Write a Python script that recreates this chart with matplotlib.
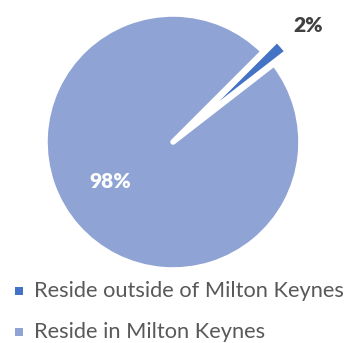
import matplotlib
matplotlib.use("Agg")
import matplotlib.pyplot as plt
from matplotlib.patches import Rectangle

categories = ["Reside outside of Milton Keynes", "Reside in Milton Keynes"]
values = [2, 98]
labels = ["2%", "98%"]
colors = ["#4472C4", "#8FA4D4"]

W, H = 347, 343
fig = plt.figure(figsize=(W / 100, H / 100), dpi=100)
ax = fig.add_axes([0, 0, 1, 1])
cx, cy, R = 173, H - 142, 128
# explode is in data units (pixels here)
wedges, _ = ax.pie(values, colors=colors, startangle=45, counterclock=False,
                   explode=[0.14 * R, 0], center=(cx, cy), radius=R,
                   wedgeprops=dict(edgecolor="white", linewidth=4,
                                   joinstyle="round"))
ax.set_xlim(0, W)
ax.set_ylim(0, H)
ax.set_aspect("equal")
ax.axis("off")

font = "Lato"
ax.text(308, H - 25, labels[0], ha="center", va="center", fontsize=15,
        fontweight="heavy", color="#404040", family=font)
ax.text(110, H - 182, labels[1], ha="center", va="center", fontsize=15,
        fontweight="heavy", color="white", family=font)

leg_y = [291, 332]
for i, cat in enumerate(categories):
    y = leg_y[i]
    ax.add_patch(Rectangle((15.5, H - y - 3.75), 7.5, 7.5, facecolor=colors[i], edgecolor="none"))
    ax.text(34.5, H - y, cat, ha="left", va="center", fontsize=15.7,
            color="#595959", family=font)

fig.savefig("out.png", dpi=100)
